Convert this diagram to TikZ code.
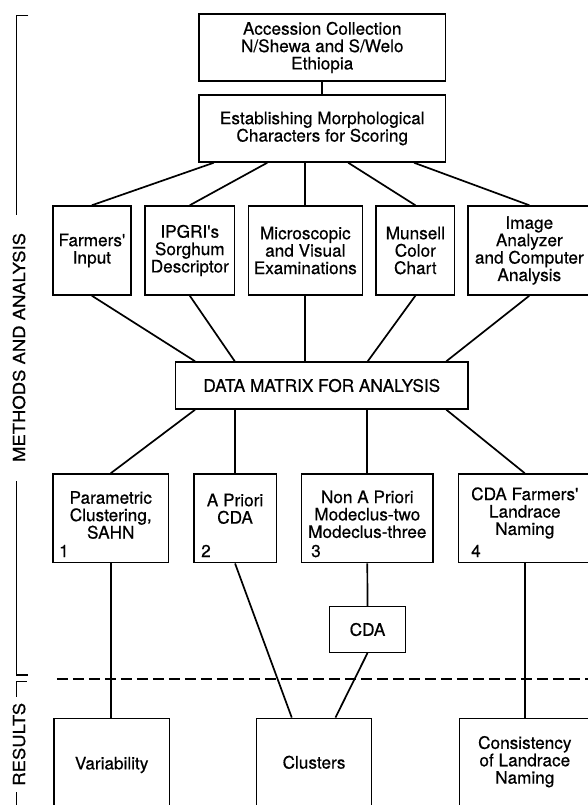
\documentclass[tikz,border=0pt]{standalone}
\usepackage{fontspec}
\usepackage{graphicx}
\setmainfont{TeX Gyre Heros}[FakeBold=0.5]
\usetikzlibrary{calc}
\newcommand\dgboxfont{\fontsize{17.2}{17.4}\selectfont}
\newcommand\dgsidefont{\fontsize{16.5}{18}\selectfont}
\begin{document}
\begin{tikzpicture}[x=1pt,y=-1pt,
  box/.style={draw, line width=1.5pt, inner sep=0pt, align=center, font=\dgboxfont},
  lab/.style={inner sep=0pt, align=center, font=\dgboxfont},
  num/.style={inner sep=0pt, anchor=base west, font=\dgboxfont},
  link/.style={line width=1.7pt},
  side/.style={rotate=90, inner sep=0pt, font=\dgsidefont},
  brk/.style={line width=1.4pt},
  sep/.style={line width=2.2pt, dash pattern=on 11pt off 5pt}]
\useasboundingbox (0,0) rectangle (588,805);
\fill[white] (0,0) rectangle (588,805);
\clip (0,0) rectangle (588,805);

% top
\node[box, minimum width=246.5pt, minimum height=67pt] (acc) at (322.25,47.5)
  {Accession Collection\\N/Shewa and S/Welo\\Ethiopia};
\node[box, minimum width=246.5pt, minimum height=67pt] (est) at (322.25,128.5)
  {Establishing Morphological\\Characters for Scoring};

% row 2
\node[box, minimum width=78pt, minimum height=89pt] (farm) at (91.9,250.5)
  {Farmers\textquotesingle\\Input};
\node[box, minimum width=89.8pt, minimum height=89pt] (ipgri) at (189.8,250.5)
  {IPGRI\textquotesingle{}s\\Sorghum\\Descriptor};
\node[box, minimum width=114pt, minimum height=89pt] (micro) at (305.3,250.5)
  {Microscopic\\and Visual\\Examinations};
\node[box, minimum width=78.3pt, minimum height=89pt] (muns) at (415.35,250.5)
  {Munsell\\Color\\Chart};
\node[box, minimum width=122.2pt, minimum height=89pt] (image) at (529.3,250.5)
  {Image\\Analyzer\\and Computer\\Analysis};

% data matrix
\node[box, minimum width=292.9pt, minimum height=47pt] (dm) at (321.75,385.5)
  {DATA MATRIX FOR ANALYSIS};

% row 3
\node[box, minimum width=115.7pt, minimum height=88.7pt] (b1) at (110.75,518.35) {};
\node[box, minimum width=82.5pt, minimum height=88.7pt] (b2) at (235.05,518.35) {};
\node[box, minimum width=131.8pt, minimum height=88.7pt] (b3) at (367.3,518.35) {};
\node[box, minimum width=132.8pt, minimum height=88.7pt] (b4) at (524.8,518.35) {};
\node[lab] (t1) at (110.75,515) {Parametric\\Clustering,\\SAHN};
\node[lab] (t2) at (235.05,508.8) {A Priori\\CDA};
\node[lab] (t3) at (367.3,514.3) {Non A Priori\\Modeclus-two\\Modeclus-three};
\node[lab] (t4) at (524.8,513) {CDA Farmers\textquotesingle\\Landrace\\Naming};
\node[num] (n1) at (59,557) {1};
\node[num] (n2) at (201,557) {2};
\node[num] (n3) at (311,557) {3};
\node[num] (n4) at (471,557) {4};

% CDA
\node[box, minimum width=76.2pt, minimum height=45.6pt] (cda) at (367.5,629.5) {CDA};

% results row
\node[box, minimum width=115.3pt, minimum height=101.4pt] (var) at (111.65,769) {};
\node[box, minimum width=114.7pt, minimum height=101.4pt] (clu) at (314.05,769) {};
\node[box, minimum width=130.8pt, minimum height=101.4pt] (cons) at (524.8,769) {};
\node[lab] (tv) at (111.65,765) {Variability};
\node[lab] (tc) at (314.05,762.3) {Clusters};
\node[lab] (tn) at (524.8,761.7) {Consistency\\of Landrace\\Naming};

% connectors
\draw[link] (acc.south) -- (est.north);
\draw[link] ($(est.south)+(-108.5,0)$) -- (farm.north);
\draw[link] ($(est.south)+(-55,0)$) -- (ipgri.north);
\draw[link] (micro.north) -- (micro.north |- est.south);
\draw[link] ($(est.south)+(26,0)$) -- (muns.north);
\draw[link] ($(est.south)+(91.8,0)$) -- (image.north);

\draw[link] (farm.south) -- ($(dm.north)+(-126.75,0)$);
\draw[link] (ipgri.south) -- ($(dm.north)+(-87,0)$);
\draw[link] (micro.south) -- (micro.south |- dm.north);
\draw[link] (muns.south) -- ($(dm.north)+(46,0)$);
\draw[link] (image.south) -- ($(dm.north)+(124.6,0)$);

\draw[link] ($(dm.south)+(-126.75,0)$) -- (b1.north);
\draw[link] (b2.north |- dm.south) -- (b2.north);
\draw[link] (b3.north |- dm.south) -- (b3.north);
\draw[link] ($(dm.south)+(124.6,0)$) -- (b4.north);

\draw[link] (b1.south) -- (b1.south |- var.north);
\draw[link] (b2.south) -- ($(clu.north)+(-22.3,0)$);
\draw[link] (b3.south) -- (cda.north);
\draw[link] (cda.south) -- ($(clu.north)+(21.4,0)$);
\draw[link] (b4.south) -- (b4.south |- cons.north);

% separator
\coordinate (dl) at (56.8,679.3);
\coordinate (dr) at (600,679.3);
\draw[sep] (dl) -- (dr);

% side brackets and labels
\node[side] (meth) at (19,347.5) {\scalebox{1.12}[1]{METHODS AND ANALYSIS}};
\node[side] (res) at (19,744.3) {\scalebox{1.12}[1]{RESULTS}};
\draw[brk] (28.3,15.7) -- (16.7,15.7) -- (16.7,215);
\draw[brk] (16.7,481) -- (16.7,675) -- (28.3,675);
\draw[brk] (26.7,681.7) -- (16.7,681.7) -- (16.7,697);
\draw[brk] (16.7,792) -- (16.7,810);
\end{tikzpicture}
\end{document}
